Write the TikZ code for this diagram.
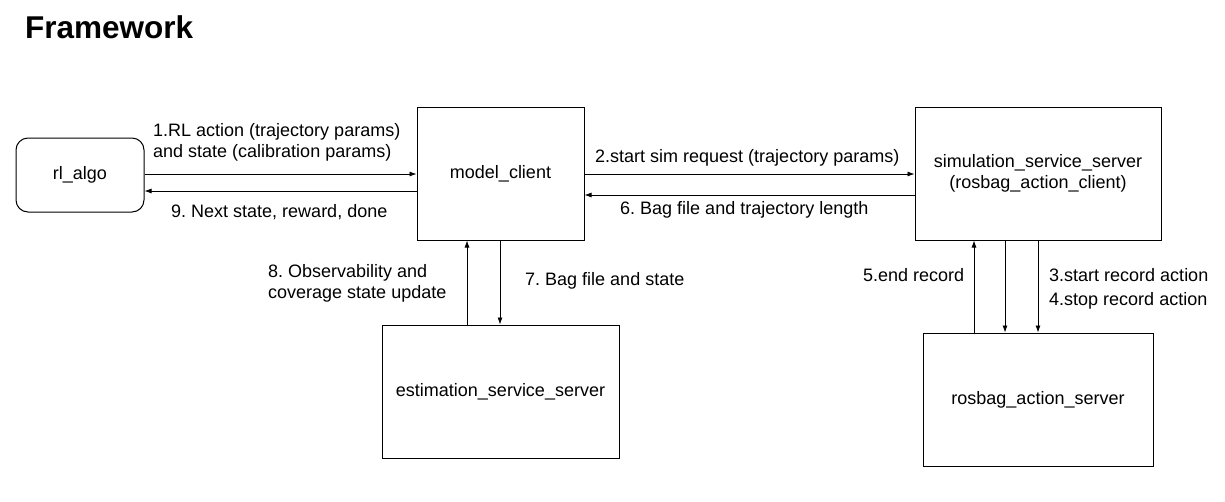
\documentclass[tikz,border=0pt]{standalone}
\usepackage{fontspec}
\setmainfont{Liberation Sans}
\usetikzlibrary{arrows.meta,calc,positioning}
\frenchspacing

\tikzset{
  blockbox/.style={draw, line width=1pt, minimum width=#1, minimum height=133pt, align=center},
  algobox/.style={draw, line width=1pt, rounded corners=12pt, minimum width=128pt, minimum height=74pt},
  flow/.style={line width=0.8pt, -{Latex[length=7pt,width=5pt]}},
  lbl/.style={align=left, anchor=west, inner sep=0pt},
}

\begin{document}
\begin{tikzpicture}[x=1pt, y=-1pt, font=\fontsize{18}{21}\selectfont]
    \useasboundingbox (0,0) rectangle (1225,501);
    \node[anchor=west, inner sep=0pt, font=\fontsize{31.5}{34}\selectfont\bfseries] (title) at (25,27) {Framework};

    % boxes
    \node[algobox] (algo) at (80,175) {rl\_algo};
    \node[blockbox=167pt] (model) at (500.5,173.5) {model\_client};
    \node[blockbox=246pt] (sim) at (1038,173.5) {simulation\_service\_server\\(rosbag\_action\_client)};
    \node[blockbox=237pt] (est) at (500.5,391.5) {estimation\_service\_server};
    \node[blockbox=230pt] (bag) at (1038,399.5) {rosbag\_action\_server};

    % horizontal links
    \draw[flow] (algo.east |- 0,174) -- (model.west |- 0,174);
    \draw[flow] (model.west |- 0,191) -- (algo.east |- 0,191);
    \draw[flow] (model.east |- 0,174) -- (sim.west |- 0,174);
    \draw[flow] (sim.west |- 0,195) -- (model.east |- 0,195);

    % vertical links
    \draw[flow] (est.north -| 467,0) -- (model.south -| 467,0);
    \draw[flow] (model.south -| 500,0) -- (est.north -| 500,0);
    \draw[flow] (bag.north -| 974,0) -- (sim.south -| 974,0);
    \draw[flow] (sim.south -| 1005,0) -- (bag.north -| 1005,0);
    \draw[flow] (sim.south -| 1038,0) -- (bag.north -| 1038,0);

    % labels
    \node[lbl] (l1) at (153,142) {1.RL action (trajectory params)\\and state (calibration params)};
    \node[lbl] (l9) at (171,212) {9. Next state, reward, done};
    \node[lbl] (l2) at (595,158) {2.start sim request (trajectory params)};
    \node[lbl] (l6) at (620,210) {6. Bag file and trajectory length};
    \node[lbl] (l8) at (268,283) {8. Observability and\\coverage state update};
    \node[lbl] (l7) at (525,281) {7. Bag file and state};
    \node[lbl] (l5) at (863,275) {5.end record};
    \node[lbl] (l3) at (1049,275) {3.start record action};
    \node[lbl] (l4) at (1049,301) {4.stop record action};
\end{tikzpicture}
\end{document}
